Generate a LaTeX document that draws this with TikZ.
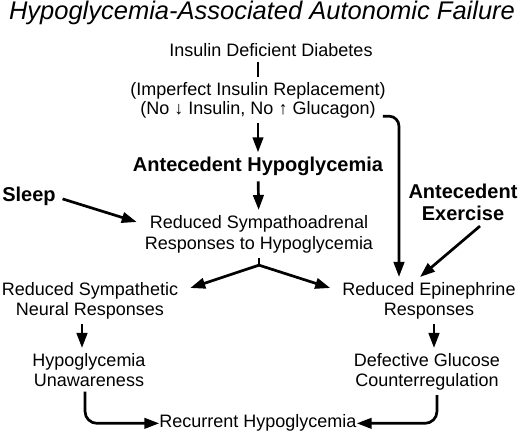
\documentclass[tikz,border=0pt]{standalone}
\usepackage{fontspec}
\setmainfont{Liberation Sans}
\usetikzlibrary{arrows.meta}

\begin{document}
\begin{tikzpicture}[x=1pt,y=1pt]
    \useasboundingbox (0,0) rectangle (520,433);
    \node[anchor=base,font=\fontsize{25.5}{30}\selectfont\itshape] (T) at (262,413) {Hypoglycemia-Associated Autonomic Failure};

    \begin{scope}[every node/.style={inner xsep=0pt,inner ysep=5pt,align=center,font=\fontsize{18}{20}\selectfont}]
        \node[anchor=base] (IDD) at (271,376) {Insulin Deficient Diabetes};
        \node[anchor=north] (IIR) at (258,356) {(Imperfect Insulin Replacement)\\[-1pt](No \textbf{↓} Insulin, No \textbf{↑} Glucagon)};
        \node[anchor=north] (RSR) at (259,223) {Reduced Sympathoadrenal\\[1pt]Responses to Hypoglycemia};
        \node[anchor=north] (RSN) at (90,156) {Reduced Sympathetic\\Neural Responses};
        \node[anchor=north] (RER) at (429,156) {Reduced Epinephrine\\Responses};
        \node[anchor=north] (HU) at (89,85) {Hypoglycemia\\Unawareness};
        \node[anchor=north] (DGC) at (427,85) {Defective Glucose\\Counterregulation};
        \node[anchor=base] (RH) at (258,5) {Recurrent Hypoglycemia};
    \end{scope}

    \begin{scope}[every node/.style={inner xsep=0pt,inner ysep=5pt,align=center,font=\fontsize{20}{22}\selectfont\bfseries}]
        \node[anchor=base] (AH) at (258,261) {Antecedent Hypoglycemia};
        \node[anchor=base] (SL) at (29,231) {Sleep};
        \node[anchor=north] (AE) at (463,254) {Antecedent\\Exercise};
    \end{scope}

    \begin{scope}[line width=2.7pt,>={Triangle[length=15pt,width=10.5pt]}]
        \draw (IDD.south -| IIR.north) -- (IIR.north);
        \path [->] (IIR) edge (AH);
        \path [->] (AH) edge (RSR);
        \draw (RSR.south) -- ++(0,-7) coordinate (split);
        \draw [->] (split) -- ([xshift=12pt,yshift=-11pt]RSN.north east);
        \draw [->] (split) -- ([xshift=-12pt,yshift=-11pt]RER.north west);
        \draw [->,shorten <=7pt] (SL.east) -- ([xshift=-8pt,yshift=-12pt]RSR.north west);
        \draw [->] ([xshift=17pt]AE.south) -- ([xshift=-9pt]RER.north);
        \draw [->,rounded corners=10pt] ([xshift=-3pt,yshift=7pt]IIR.south east) -| ([xshift=-30pt]RER.north);
        \draw [->] ([xshift=-8pt]RSN.south) -- ([xshift=-8pt]RSN.south |- HU.north);
        \draw [->] ([xshift=5pt]RER.south) -- ([xshift=5pt]RER.south |- DGC.north);
        \draw [->,rounded corners=12pt] ([xshift=-4pt]HU.south) |- (RH.west);
        \draw [->,rounded corners=12pt] ([xshift=10pt]DGC.south) |- (RH.east);
    \end{scope}
\end{tikzpicture}
\end{document}
